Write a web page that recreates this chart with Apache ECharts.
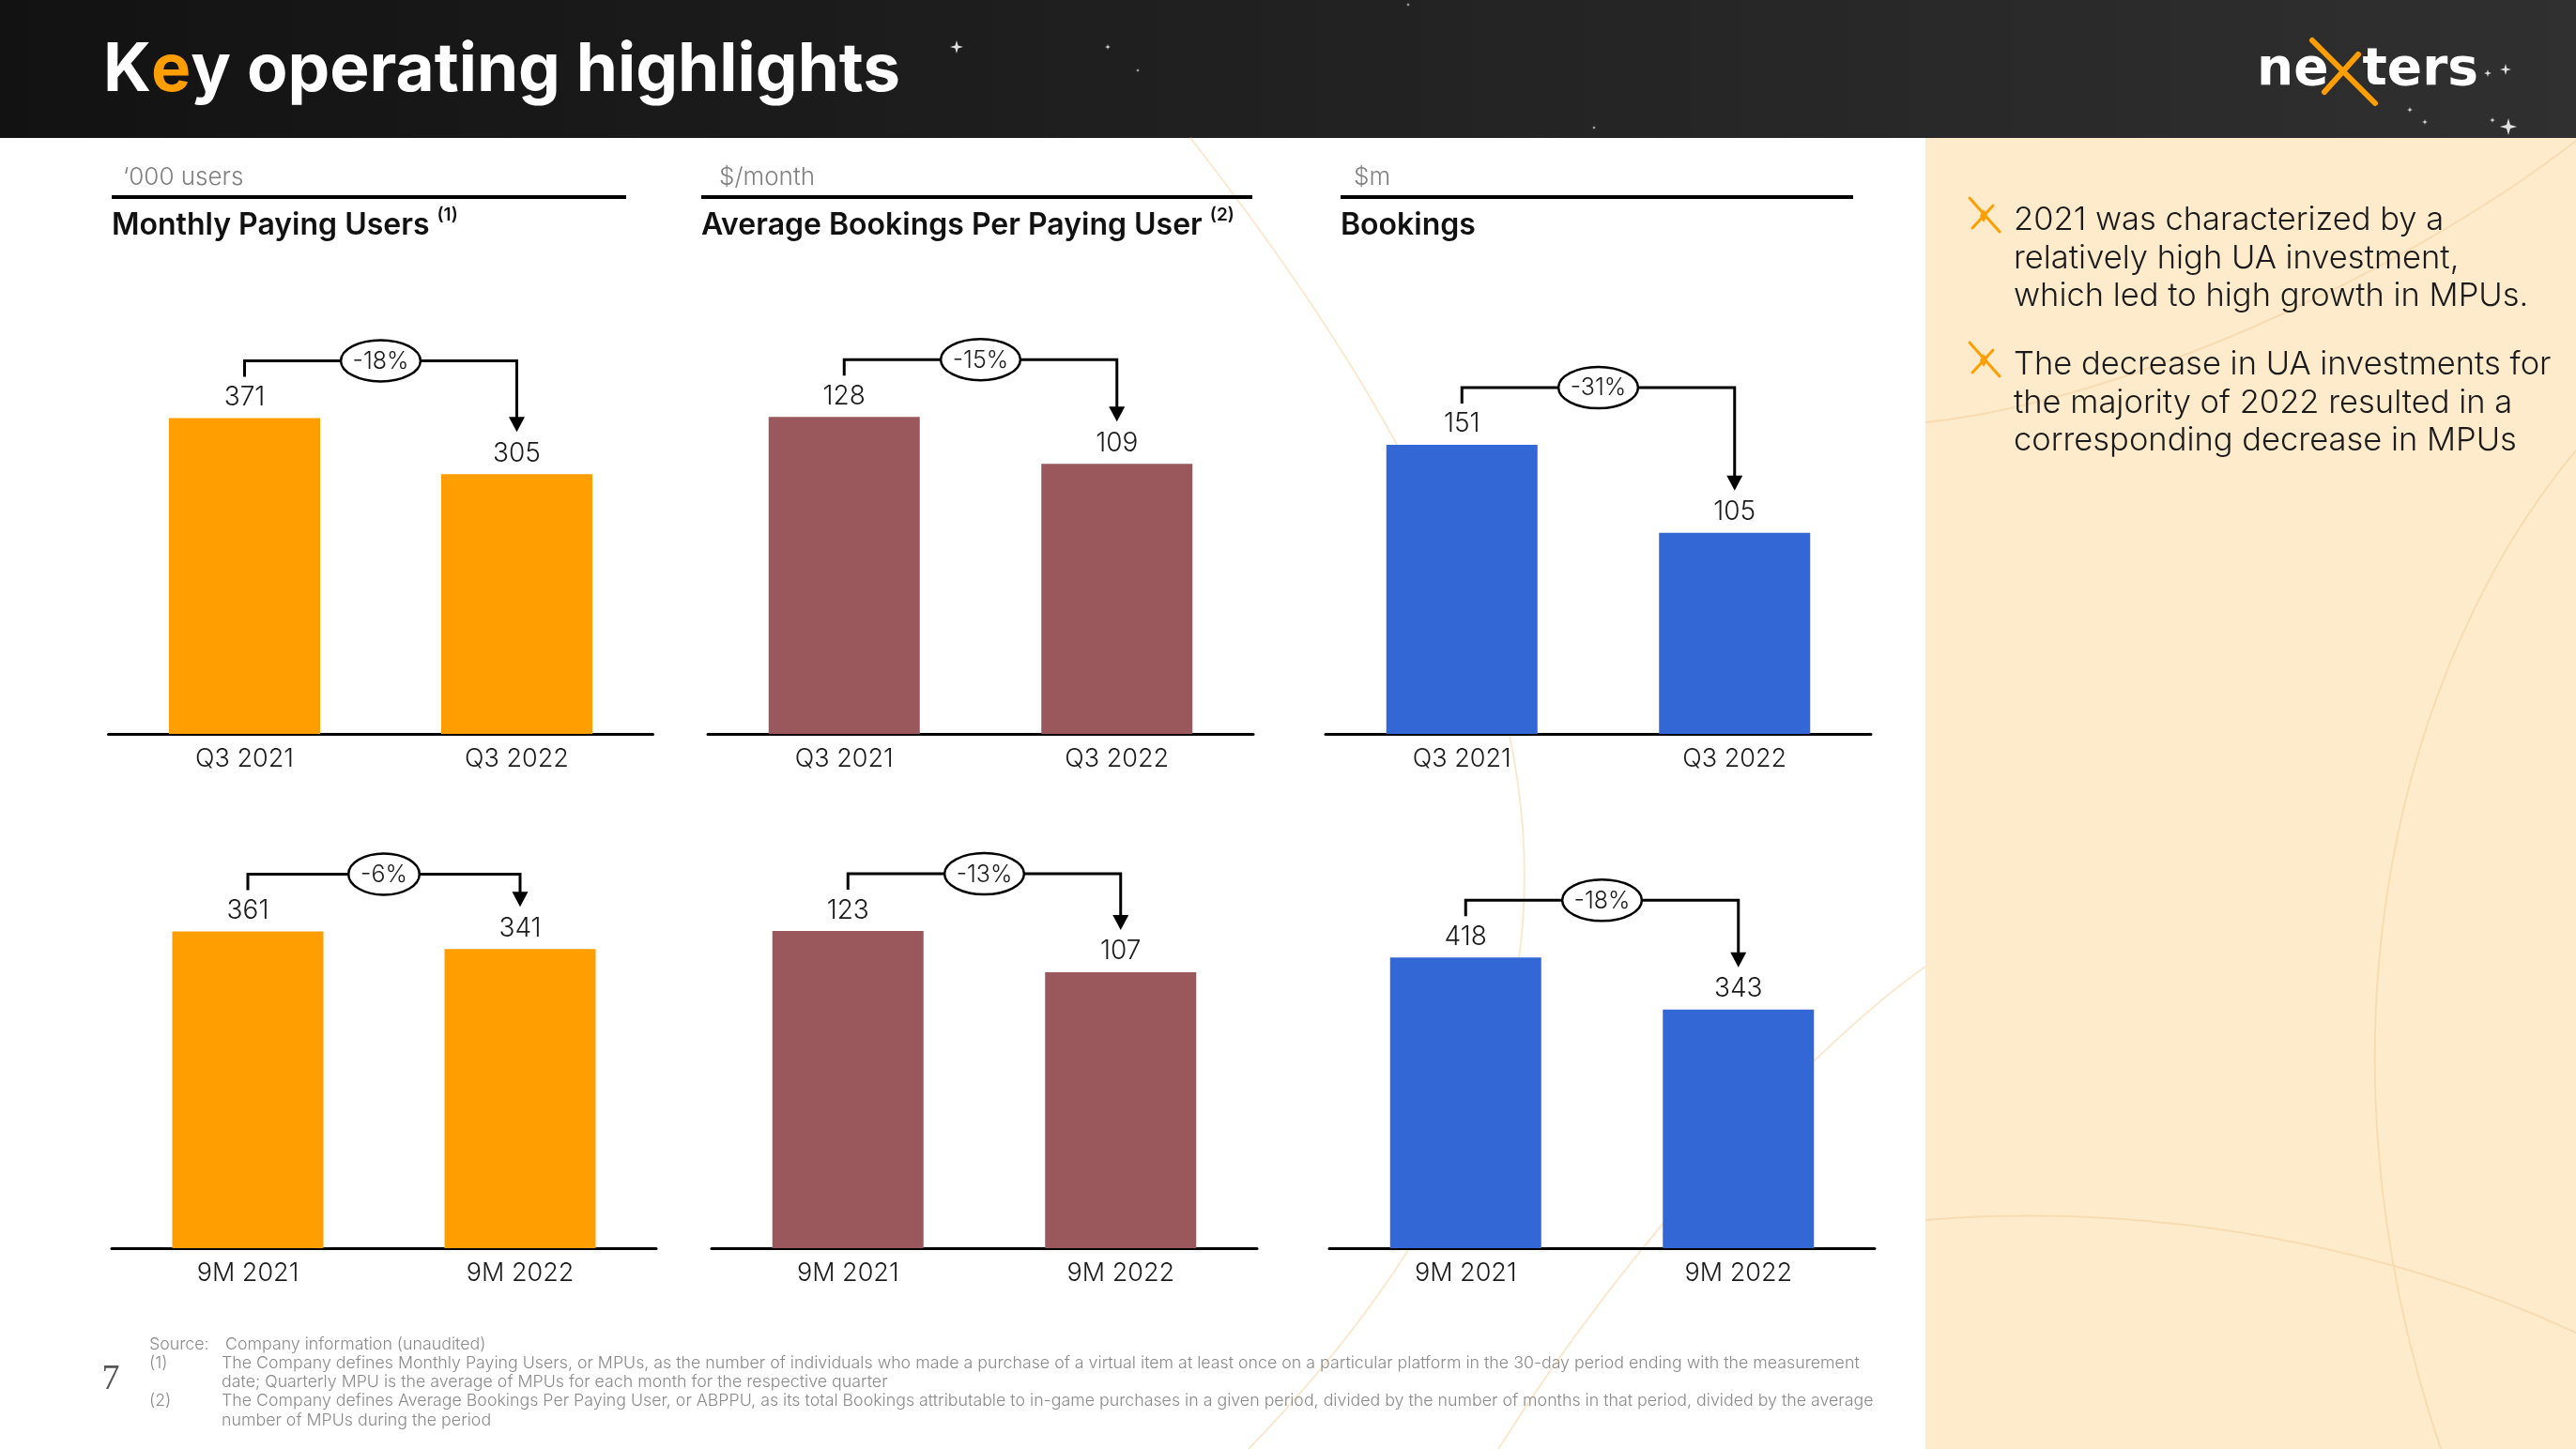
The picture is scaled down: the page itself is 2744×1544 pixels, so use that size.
<!DOCTYPE html>
<html><head><meta charset="utf-8">
<script src="https://cdn.jsdelivr.net/npm/echarts@6/dist/echarts.min.js"></script>
<style>html,body{margin:0;padding:0;background:#fff}#c{width:2744px;height:1544px}</style>
</head><body><div id="c"></div>
<script>
// ---------- data ----------
const categoriesQ3 = ['Q3 2021', 'Q3 2022'];
const categories9M = ['9M 2021', '9M 2022'];
const mpuQ3 = [371, 305];
const mpu9M = [361, 341];
const abppuQ3 = [128, 109];
const abppu9M = [123, 107];
const bookingsQ3 = [151, 105];
const bookings9M = [418, 343];
const mpuChange = ['-18%', '-6%'];
const abppuChange = ['-15%', '-13%'];
const bookingsChange = ['-31%', '-18%'];
const panelUnits = ['\u2018000 users', '$/month', '$m'];
const panelTitles = ['Monthly Paying Users', 'Average Bookings Per Paying User', 'Bookings'];
const panelNotes = ['(1)', '(2)', ''];
const bullet1 = ['2021 was characterized by a', 'relatively high UA investment,', 'which led to high growth in MPUs.'];
const bullet2 = ['The decrease in UA investments for', 'the majority of 2022 resulted in a', 'corresponding decrease in MPUs'];
const footSource = ['Source:', 'Company information (unaudited)'];
const footNote1 = ['(1)', 'The Company defines Monthly Paying Users, or MPUs, as the number of individuals who made a purchase of a virtual item at least once on a particular platform in the 30-day period ending with the measurement', 'date; Quarterly MPU is the average of MPUs for each month for the respective quarter'];
const footNote2 = ['(2)', 'The Company defines Average Bookings Per Paying User, or ABPPU, as its total Bookings attributable to in-game purchases in a given period, divided by the number of months in that period, divided by the average', 'number of MPUs during the period'];
const pageNumber = '7';

// ---------- layout / style ----------
const FONT = 'Inter';
const ORANGE = '#FF9E00', MAROON = '#9A585C', BLUE = '#3367D6';
const panels = [
  {cats: categoriesQ3, vals: mpuQ3, chg: mpuChange[0], color: ORANGE, grid: {left: 115.5, top: 332, width: 580, height: 450}, max: 496},
  {cats: categoriesQ3, vals: abppuQ3, chg: abppuChange[0], color: MAROON, grid: {left: 754, top: 332, width: 581, height: 450}, max: 170.5},
  {cats: categoriesQ3, vals: bookingsQ3, chg: bookingsChange[0], color: BLUE, grid: {left: 1412, top: 332, width: 581, height: 450}, max: 220.6},
  {cats: categories9M, vals: mpu9M, chg: mpuChange[1], color: ORANGE, grid: {left: 119, top: 880, width: 580, height: 450}, max: 481.3},
  {cats: categories9M, vals: abppu9M, chg: abppuChange[1], color: MAROON, grid: {left: 758, top: 880, width: 581, height: 450}, max: 163.8},
  {cats: categories9M, vals: bookings9M, chg: bookingsChange[1], color: BLUE, grid: {left: 1416, top: 880, width: 581, height: 450}, max: 607.3}
];

const grids = [], xAxes = [], yAxes = [], series = [];
panels.forEach((p, i) => {
  grids.push(Object.assign({containLabel: false}, p.grid));
  xAxes.push({
    type: 'category', gridIndex: i, data: p.cats,
    axisLine: {show: true, lineStyle: {color: '#000', width: 3}},
    axisTick: {show: false},
    axisLabel: {color: '#1a1a1a', fontSize: 27, fontWeight: 300, fontFamily: FONT, margin: 13}
  });
  yAxes.push({type: 'value', gridIndex: i, min: 0, max: p.max, show: false, splitLine: {show: false}});
  series.push({
    type: 'bar', xAxisIndex: i, yAxisIndex: i, data: p.vals, barWidth: 161,
    itemStyle: {color: p.color}, z: 3,
    label: {show: true, position: 'top', distance: 8, color: '#1a1a1a', fontSize: 28, fontWeight: 300, fontFamily: FONT}
  });
  const txt = p.chg;
  series.push({
    type: 'custom', xAxisIndex: i, yAxisIndex: i, z: 6, silent: true,
    data: [[0, p.vals[0], p.vals[1]]],
    encode: {x: 0, y: [1, 2]},
    renderItem: function (params, api) {
      const p1 = api.coord([0, api.value(1)]);
      const p2 = api.coord([1, api.value(2)]);
      const topY = Math.min(p1[1], p2[1]) - 61;
      const mid = (p1[0] + p2[0]) / 2;
      const tipY = p2[1] - 45;
      const rx = 24 + 4.6 * txt.length;
      return {type: 'group', children: [
        {type: 'polyline', shape: {points: [[p1[0], p1[1] - 44], [p1[0], topY], [p2[0], topY], [p2[0], tipY - 12]]},
          style: {stroke: '#000', lineWidth: 3, fill: null}},
        {type: 'polygon', shape: {points: [[p2[0] - 8.5, tipY - 16], [p2[0] + 8.5, tipY - 16], [p2[0], tipY]]},
          style: {fill: '#000'}},
        {type: 'ellipse', shape: {cx: mid, cy: topY, rx: rx, ry: 22},
          style: {fill: '#fff', stroke: '#000', lineWidth: 2.5}},
        {type: 'text', x: mid, y: topY + 1, style: {text: txt, fill: '#1a1a1a', fontSize: 25, fontWeight: 300,
          fontFamily: FONT, align: 'center', verticalAlign: 'middle'}}
      ]};
    }
  });
});

// ---------- decorative graphics ----------
const graphics = [];
graphics.push({type: 'rect', z: -20, shape: {x: 0, y: 0, width: 2744, height: 147},
  style: {fill: new echarts.graphic.LinearGradient(0, 0, 1, 0, [{offset: 0, color: '#121212'}, {offset: 1, color: '#303030'}])}});
graphics.push({type: 'rect', z: -20, shape: {x: 2051, y: 147, width: 693, height: 1397}, style: {fill: '#FEEBCC'}});

// faint decorative curves
const curveStyle = {stroke: '#FCE8CF', lineWidth: 2, fill: null};
graphics.push({type: 'bezierCurve', z: -15, shape: {x1: 1268, y1: 147, cpx1: 1700, cpy1: 700, cpx2: 1760, cpy2: 1100, x2: 1330, y2: 1544}, style: curveStyle});
graphics.push({type: 'bezierCurve', z: -15, shape: {x1: 1596, y1: 1544, cpx1: 1750, cpy1: 1300, cpx2: 1950, cpy2: 1100, x2: 2051, y2: 1030}, style: curveStyle});
const panelCurve = {stroke: '#F7DBB3', lineWidth: 2, fill: null};
graphics.push({type: 'bezierCurve', z: -15, shape: {x1: 2744, y1: 480, cpx1: 2560, cpy1: 700, cpx2: 2450, cpy2: 1100, x2: 2600, y2: 1544}, style: panelCurve});
graphics.push({type: 'bezierCurve', z: -15, shape: {x1: 2051, y1: 1300, cpx1: 2300, cpy1: 1280, cpx2: 2550, cpy2: 1330, x2: 2744, y2: 1420}, style: panelCurve});
graphics.push({type: 'bezierCurve', z: -15, shape: {x1: 2051, y1: 450, cpx1: 2250, cpy1: 430, cpx2: 2550, cpy2: 300, x2: 2744, y2: 150}, style: panelCurve});

// stars in header
function star(cx, cy, r) {
  const s = r * 0.22;
  return {type: 'polygon', z: -10, shape: {points: [[cx, cy - r], [cx + s, cy - s], [cx + r, cy], [cx + s, cy + s], [cx, cy + r], [cx - s, cy + s], [cx - r, cy], [cx - s, cy - s]]},
    style: {fill: '#ffffff', opacity: 0.85}};
}
[[1019, 50, 7], [1180, 50, 3], [1212, 75, 2], [2567, 117, 3], [2583, 130, 3], [2669, 74, 6], [2650, 78, 4], [2672, 135, 9], [2655, 128, 3], [1698, 136, 2], [1500, 5, 2]].forEach(s => graphics.push(star(s[0], s[1], s[2])));

// main title
graphics.push({type: 'text', z: 10, x: 110, y: 76, style: {
  text: '{w|K}{o|e}{w|y operating highlights}', verticalAlign: 'middle', align: 'left',
  rich: {w: {fill: '#fff', fontSize: 71, fontWeight: 700, fontFamily: FONT},
         o: {fill: ORANGE, fontSize: 71, fontWeight: 700, fontFamily: FONT}}}});

// logo
graphics.push({type: 'text', z: 10, x: 2404, y: 76, style: {text: 'ne', fill: '#fff', fontSize: 55, fontWeight: 700, fontFamily: 'DejaVu Sans', verticalAlign: 'middle'}});
graphics.push({type: 'text', z: 10, x: 2640, y: 76, style: {text: 'ters', fill: '#fff', fontSize: 55, fontWeight: 700, fontFamily: 'DejaVu Sans', verticalAlign: 'middle', align: 'right'}});
graphics.push({type: 'line', z: 11, shape: {x1: 2463, y1: 43, x2: 2530, y2: 110}, style: {stroke: ORANGE, lineWidth: 6, lineCap: 'round'}});
graphics.push({type: 'line', z: 11, shape: {x1: 2512, y1: 58, x2: 2476, y2: 98}, style: {stroke: ORANGE, lineWidth: 6, lineCap: 'round'}});

// panel headers
const headerX = [[131, 119, 119, 667], [766, 747, 747, 1334], [1442, 1428, 1428, 1974]];
headerX.forEach((h, i) => {
  graphics.push({type: 'text', x: h[0], y: 189, style: {text: panelUnits[i], fill: '#7f7f7f', fontSize: 26, fontWeight: 300, fontFamily: FONT, verticalAlign: 'middle'}});
  graphics.push({type: 'rect', shape: {x: h[2], y: 208, width: h[3] - h[2], height: 4}, style: {fill: '#000'}});
  const t = panelNotes[i] ? '{t|' + panelTitles[i] + ' }{s|' + panelNotes[i] + '}' : '{t|' + panelTitles[i] + '}';
  graphics.push({type: 'text', x: h[1], y: 238, style: {text: t, verticalAlign: 'middle',
    rich: {t: {fill: '#111', fontSize: 32, fontWeight: 600, fontFamily: FONT, lineHeight: 36, verticalAlign: 'bottom'},
           s: {fill: '#111', fontSize: 19, fontWeight: 600, fontFamily: FONT, lineHeight: 36, verticalAlign: 'top'}}}});
});

// right panel bullets
function bulletIcon(cx, cy) {
  return {type: 'group', x: cx, y: cy, children: [
    {type: 'line', shape: {x1: -15, y1: -19, x2: 17, y2: 17}, style: {stroke: ORANGE, lineWidth: 3, lineCap: 'round'}},
    {type: 'line', shape: {x1: 10, y1: -11, x2: -12, y2: 13}, style: {stroke: ORANGE, lineWidth: 3, lineCap: 'round'}},
    {type: 'polygon', shape: {points: [[0, -7], [4, 0], [0, 7], [-4, 0]]}, style: {fill: ORANGE}}
  ]};
}
graphics.push(bulletIcon(2113, 230));
graphics.push(bulletIcon(2113, 384));
const bulletStyle = {fill: '#1a1a1a', fontSize: 34.5, fontWeight: 300, fontFamily: FONT, verticalAlign: 'middle'};
bullet1.forEach((l, k) => graphics.push({type: 'text', x: 2145, y: 235 + k * 40.5, style: Object.assign({text: l}, bulletStyle)}));
bullet2.forEach((l, k) => graphics.push({type: 'text', x: 2145, y: 389 + k * 40.5, style: Object.assign({text: l}, bulletStyle)}));

// footnotes
const footStyle = {fill: '#8a8a8a', fontSize: 17.8, fontWeight: 300, fontFamily: FONT, verticalAlign: 'middle'};
graphics.push({type: 'text', x: 159, y: 1433, style: Object.assign({text: footSource[0]}, footStyle)});
graphics.push({type: 'text', x: 240, y: 1433, style: Object.assign({text: footSource[1]}, footStyle)});
graphics.push({type: 'text', x: 159, y: 1452.5, style: Object.assign({text: footNote1[0]}, footStyle)});
graphics.push({type: 'text', x: 236, y: 1452.5, style: Object.assign({text: footNote1[1]}, footStyle)});
graphics.push({type: 'text', x: 236, y: 1472.5, style: Object.assign({text: footNote1[2]}, footStyle)});
graphics.push({type: 'text', x: 159, y: 1493, style: Object.assign({text: footNote2[0]}, footStyle)});
graphics.push({type: 'text', x: 236, y: 1493, style: Object.assign({text: footNote2[1]}, footStyle)});
graphics.push({type: 'text', x: 236, y: 1513.5, style: Object.assign({text: footNote2[2]}, footStyle)});
graphics.push({type: 'text', x: 118, y: 1470, style: {text: pageNumber, fill: '#555', fontSize: 38, fontFamily: 'Liberation Serif', align: 'center', verticalAlign: 'middle'}});

const chart = echarts.init(document.getElementById('c'), null, {renderer: 'canvas'});
chart.setOption({
  backgroundColor: '#ffffff',
  animation: false,
  textStyle: {fontFamily: FONT},
  grid: grids, xAxis: xAxes, yAxis: yAxes, series: series,
  graphic: {elements: graphics}
});
</script></body></html>
